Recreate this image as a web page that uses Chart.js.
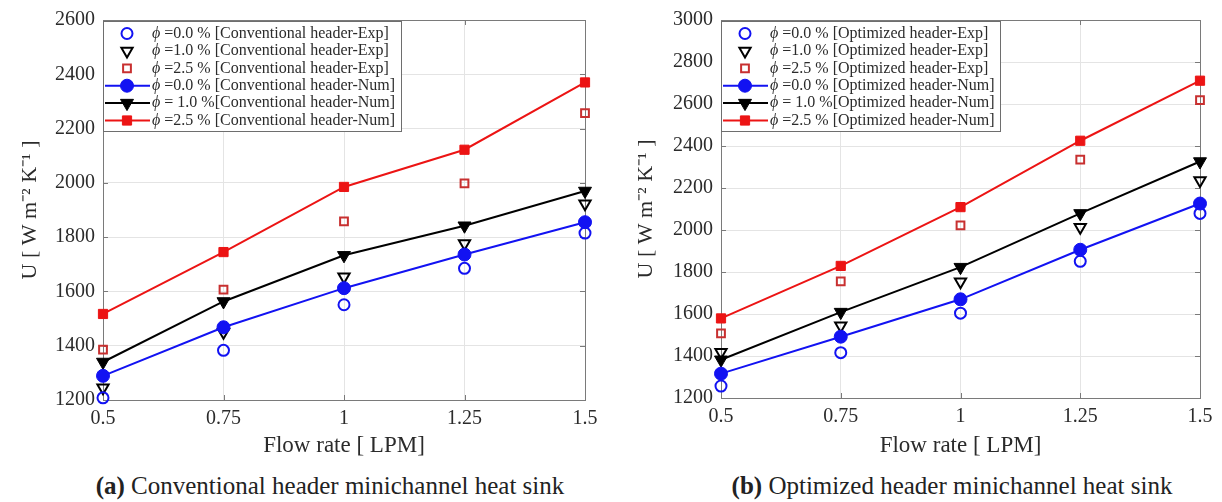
<!DOCTYPE html>
<html>
<head>
<meta charset="utf-8">
<script src="https://cdn.jsdelivr.net/npm/chart.js@4.4.0/dist/chart.umd.min.js"></script>
<style>
  body { margin: 0; background: #fff; width: 1222px; height: 502px; position: relative; overflow: hidden; font-family: "Liberation Serif", "Times New Roman", serif; }
  .box { position: absolute; top: 0; }
  .cap { position: absolute; top: 472px; font-size: 25px; color: #222; text-align: center; white-space: nowrap; }
</style>
</head>
<body>
<div class="box" style="left:0"><canvas id="chartA" width="610" height="465"></canvas></div>
<div class="box" style="left:610px"><canvas id="chartB" width="612" height="465"></canvas></div>
<div class="cap" style="left:80px;width:500px"><b>(a)</b> Conventional header minichannel heat sink</div>
<div class="cap" style="left:702px;width:500px"><b>(b)</b> Optimized header minichannel heat sink</div>

<script>
// debit (LPM)
const flowRate = [0.5, 0.75, 1, 1.25, 1.5];

// (a) en-tete conventionnel
const convExp00 = [1208, 1383, 1551, 1685, 1815];
const convExp10 = [1245, 1450, 1654, 1777, 1923];
const convExp25 = [1386, 1607, 1858, 1998, 2257];
const convNum00 = [1289, 1468, 1612, 1736, 1855];
const convNum10 = [1340, 1563, 1733, 1842, 1970];
const convNum25 = [1517, 1745, 1985, 2122, 2370];

// (b) en-tete optimise
const optExp00 = [1257, 1416, 1604, 1851, 2079];
const optExp10 = [1418, 1544, 1753, 2013, 2236];
const optExp25 = [1508, 1755, 2022, 2335, 2618];
const optNum00 = [1316, 1492, 1670, 1906, 2126];
const optNum10 = [1382, 1609, 1823, 2079, 2326];
const optNum25 = [1579, 1829, 2109, 2425, 2711];

const convLabels = [
  '=0.0 % [Conventional header-Exp]',
  '=1.0 % [Conventional header-Exp]',
  '=2.5 % [Conventional header-Exp]',
  '=0.0 % [Conventional header-Num]',
  '= 1.0 %[Conventional header-Num]',
  '=2.5 % [Conventional header-Num]'
];
const optLabels = [
  '=0.0 % [Optimized header-Exp]',
  '=1.0 % [Optimized header-Exp]',
  '=2.5 % [Optimized header-Exp]',
  '=0.0 % [Optimized header-Num]',
  '= 1.0 %[Optimized header-Num]',
  '=2.5 % [Optimized header-Num]'
];

const BLUE = '#1212f2';
const RED = '#ec1414';
const RED_OPEN = '#c83030';
const BLACK = '#000000';
const TXT = '#2b2b2b';
const LEG_FONT = '16px "Liberation Serif", serif';
const LEG_FONT_IT = 'italic 16px "Liberation Serif", serif';

function pts(values) {
  return flowRate.map((x, i) => ({ x: x, y: values[i] }));
}

// series experimentales : symboles vides, sans ligne
function expSet(label, values, color, style, radius, rotation) {
  return {
    label: label, data: pts(values), showLine: false, order: 1, clip: false,
    pointStyle: style, pointRadius: radius, pointRotation: rotation || 0,
    pointBorderWidth: 2, borderColor: color, pointBorderColor: color,
    pointBackgroundColor: 'rgba(0,0,0,0)', backgroundColor: 'rgba(0,0,0,0)'
  };
}

// series numeriques : ligne + symboles pleins
function numSet(label, values, color, style, radius, rotation) {
  return {
    label: label, data: pts(values), showLine: true, order: 0, clip: false,
    borderColor: color, borderWidth: 2, backgroundColor: color,
    pointStyle: style, pointRadius: radius, pointRotation: rotation || 0,
    pointBorderWidth: 1, pointBorderColor: color, pointBackgroundColor: color
  };
}

// cadre + petits tirets + legende a l'interieur du graphique
const framePlugin = {
  id: 'frame',
  beforeDatasetsDraw(chart) {
    const a = chart.chartArea;
    const ctx = chart.ctx;
    ctx.save();
    ctx.strokeStyle = '#7a7a7a';
    ctx.lineWidth = 1;
    ctx.strokeRect(Math.round(a.left) + 0.5, Math.round(a.top) + 0.5, Math.round(a.width), Math.round(a.height));

    const xs = chart.scales.x, ys = chart.scales.y;
    ctx.beginPath();
    xs.ticks.forEach(t => {
      const px = Math.round(xs.getPixelForValue(t.value)) + 0.5;
      ctx.moveTo(px, a.bottom); ctx.lineTo(px, a.bottom - 5);
      ctx.moveTo(px, a.top); ctx.lineTo(px, a.top + 5);
    });
    ys.ticks.forEach(t => {
      const py = Math.round(ys.getPixelForValue(t.value)) + 0.5;
      ctx.moveTo(a.left, py); ctx.lineTo(a.left + 5, py);
      ctx.moveTo(a.right, py); ctx.lineTo(a.right - 5, py);
    });
    ctx.stroke();
    ctx.restore();
  },
  afterDatasetsDraw(chart, args, opts) {
    const a = chart.chartArea;
    const ctx = chart.ctx;
    ctx.save();
    // legende
    const labels = opts.labels;
    const textX = a.left + 49;
    let maxW = 0;
    labels.forEach(l => {
      ctx.font = LEG_FONT_IT;
      const w1 = ctx.measureText('\u03D5 ').width;
      ctx.font = LEG_FONT;
      maxW = Math.max(maxW, w1 + ctx.measureText(l).width);
    });
    const boxX = Math.round(a.left) + 0.5;
    const boxY = Math.round(a.top) + 1.5;
    const boxW = Math.round(49 + maxW + 6);
    const boxH = 110;
    ctx.fillStyle = '#ffffff';
    ctx.fillRect(boxX, boxY, boxW, boxH);
    ctx.strokeStyle = '#6e6e6e';
    ctx.lineWidth = 1;
    ctx.strokeRect(boxX, boxY, boxW, boxH);

    chart.data.datasets.forEach((ds, i) => {
      const y = boxY + 12 + i * 17.4;
      const mx = a.left + 24;
      if (ds.showLine) {
        ctx.strokeStyle = ds.borderColor;
        ctx.lineWidth = 2;
        ctx.beginPath();
        ctx.moveTo(a.left + 2, y); ctx.lineTo(a.left + 47, y);
        ctx.stroke();
      }
      ctx.fillStyle = ds.pointBackgroundColor;
      ctx.strokeStyle = ds.pointBorderColor;
      ctx.lineWidth = ds.pointBorderWidth;
      Chart.helpers.drawPoint(ctx, {
        pointStyle: ds.pointStyle, radius: ds.pointRadius,
        rotation: ds.pointRotation, borderWidth: ds.pointBorderWidth
      }, mx, y);

      ctx.fillStyle = TXT;
      ctx.textBaseline = 'middle';
      ctx.textAlign = 'left';
      ctx.font = LEG_FONT_IT;
      ctx.fillText('\u03D5', textX, y);
      const w1 = ctx.measureText('\u03D5 ').width;
      ctx.font = LEG_FONT;
      ctx.fillText(labels[i], textX + w1, y);
    });
    ctx.restore();
  }
};

function makeChart(id, sets, labels, yMax, pad, yWidth, xHeight) {
  const ctx = document.getElementById(id).getContext('2d');
  return new Chart(ctx, {
    type: 'scatter',
    data: { datasets: sets },
    options: {
      responsive: false,
      animation: false,
      layout: { padding: pad },
      plugins: {
        legend: { display: false },
        tooltip: { enabled: false },
        frame: { labels: labels }
      },
      scales: {
        x: {
          type: 'linear', min: 0.5, max: 1.5,
          afterFit: s => { s.height = xHeight; },
          ticks: { stepSize: 0.25, padding: 7, color: TXT, font: { family: '"Liberation Serif"', size: 20 },
                   callback: v => String(v) },
          grid: { color: '#e4e4e4', drawTicks: false },
          border: { display: false },
          title: { display: true, text: 'Flow rate [ LPM]', color: TXT, padding: { top: 0, bottom: 0 },
                   font: { family: '"Liberation Serif"', size: 23 } }
        },
        y: {
          min: 1200, max: yMax,
          afterFit: s => { s.width = yWidth; },
          ticks: { stepSize: 200, padding: 8, color: TXT, font: { family: '"Liberation Serif"', size: 20 },
                   callback: v => String(v) },
          grid: { color: '#e4e4e4', drawTicks: false },
          border: { display: false },
          title: { display: true, text: 'U [ W m\u207B\u00B2 K\u207B\u00B9 ]', color: TXT, padding: { top: 0, bottom: 0 },
                   font: { family: '"Liberation Serif"', size: 22 } }
        }
      }
    },
    plugins: [framePlugin]
  });
}

document.addEventListener('DOMContentLoaded', function () {
  makeChart('chartA', [
    expSet('exp00', convExp00, BLUE, 'circle', 5.5),
    expSet('exp10', convExp10, BLACK, 'triangle', 6.5, 180),
    expSet('exp25', convExp25, RED_OPEN, 'rect', 5.5),
    numSet('num00', convNum00, BLUE, 'circle', 6.5),
    numSet('num10', convNum10, BLACK, 'triangle', 7.5, 180),
    numSet('num25', convNum25, RED, 'rect', 6.5)
  ], convLabels, 2600, { left: 17, right: 25, top: 17, bottom: 5 }, 86, 60);

  makeChart('chartB', [
    expSet('exp00', optExp00, BLUE, 'circle', 5.5),
    expSet('exp10', optExp10, BLACK, 'triangle', 6.5, 180),
    expSet('exp25', optExp25, RED_OPEN, 'rect', 5.5),
    numSet('num00', optNum00, BLUE, 'circle', 6.5),
    numSet('num10', optNum10, BLACK, 'triangle', 7.5, 180),
    numSet('num25', optNum25, RED, 'rect', 6.5)
  ], optLabels, 3000, { left: 23, right: 22, top: 16, bottom: 5 }, 88, 62);
});
</script>
</body>
</html>
